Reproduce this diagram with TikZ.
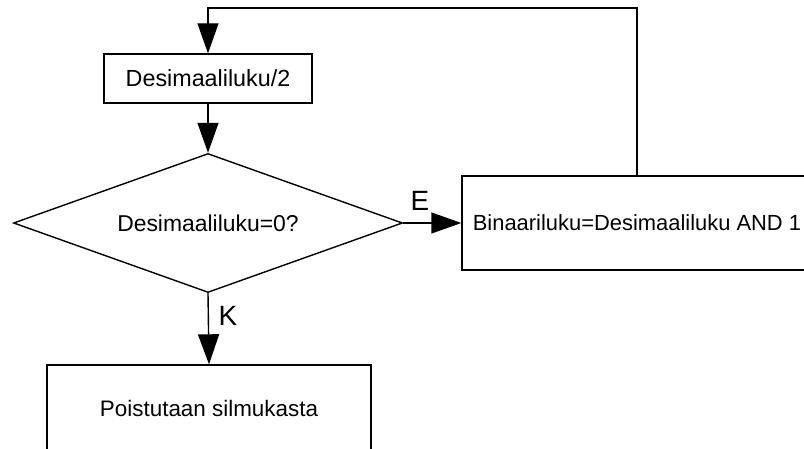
\documentclass[tikz,border=0pt]{standalone}
\usepackage{fontspec}
\setmainfont{Liberation Sans}
\usetikzlibrary{shapes.geometric,arrows.meta}
\begin{document}
\begin{tikzpicture}[x=1bp,y=-1bp,
  line width=1.4bp,
  every node/.style={font=\fontsize{23}{27}\selectfont},
  boxnode/.style={draw,rectangle,inner sep=0pt},
  decision/.style={draw,diamond,inner sep=0pt,aspect=2.8},
  flow/.style={-{Triangle[length=30bp,width=21bp]}},
  branch/.style={font=\fontsize{28}{32}\selectfont,inner sep=0pt}]
  \useasboundingbox (0,0) rectangle (804,449);
  \clip (0,0) rectangle (804,449);

  % process steps
  \node[boxnode,minimum width=208bp,minimum height=49bp] (halve) at (208,78.5) {\fontsize{23.4}{27}\selectfont Desimaaliluku/2};
  \node[decision,minimum width=389bp,minimum height=139bp] (test) at (208,223) {Desimaaliluku=0?};
  \node[boxnode,minimum width=350bp,minimum height=94bp] (bit) at (637,223) {\fontsize{22}{26}\selectfont Binaariluku=Desimaaliluku AND 1};
  \node[boxnode,minimum width=324bp,minimum height=86bp] (exit) at (209,408) {\fontsize{22.5}{26}\selectfont Poistutaan silmukasta};

  % connectors
  \draw[flow] (halve.south) -- (test.north);
  \draw[flow] (test.east) -- (bit.west);
  \draw[flow] (test.south) -- (exit.north);
  \coordinate (back) at (208,8);
  \draw[flow] (bit.north) |- (back) -- (halve.north);

  % branch labels
  \node[branch] (no) at (420,201) {E};
  \node[branch] (yes) at (228,316) {K};
\end{tikzpicture}
\end{document}
